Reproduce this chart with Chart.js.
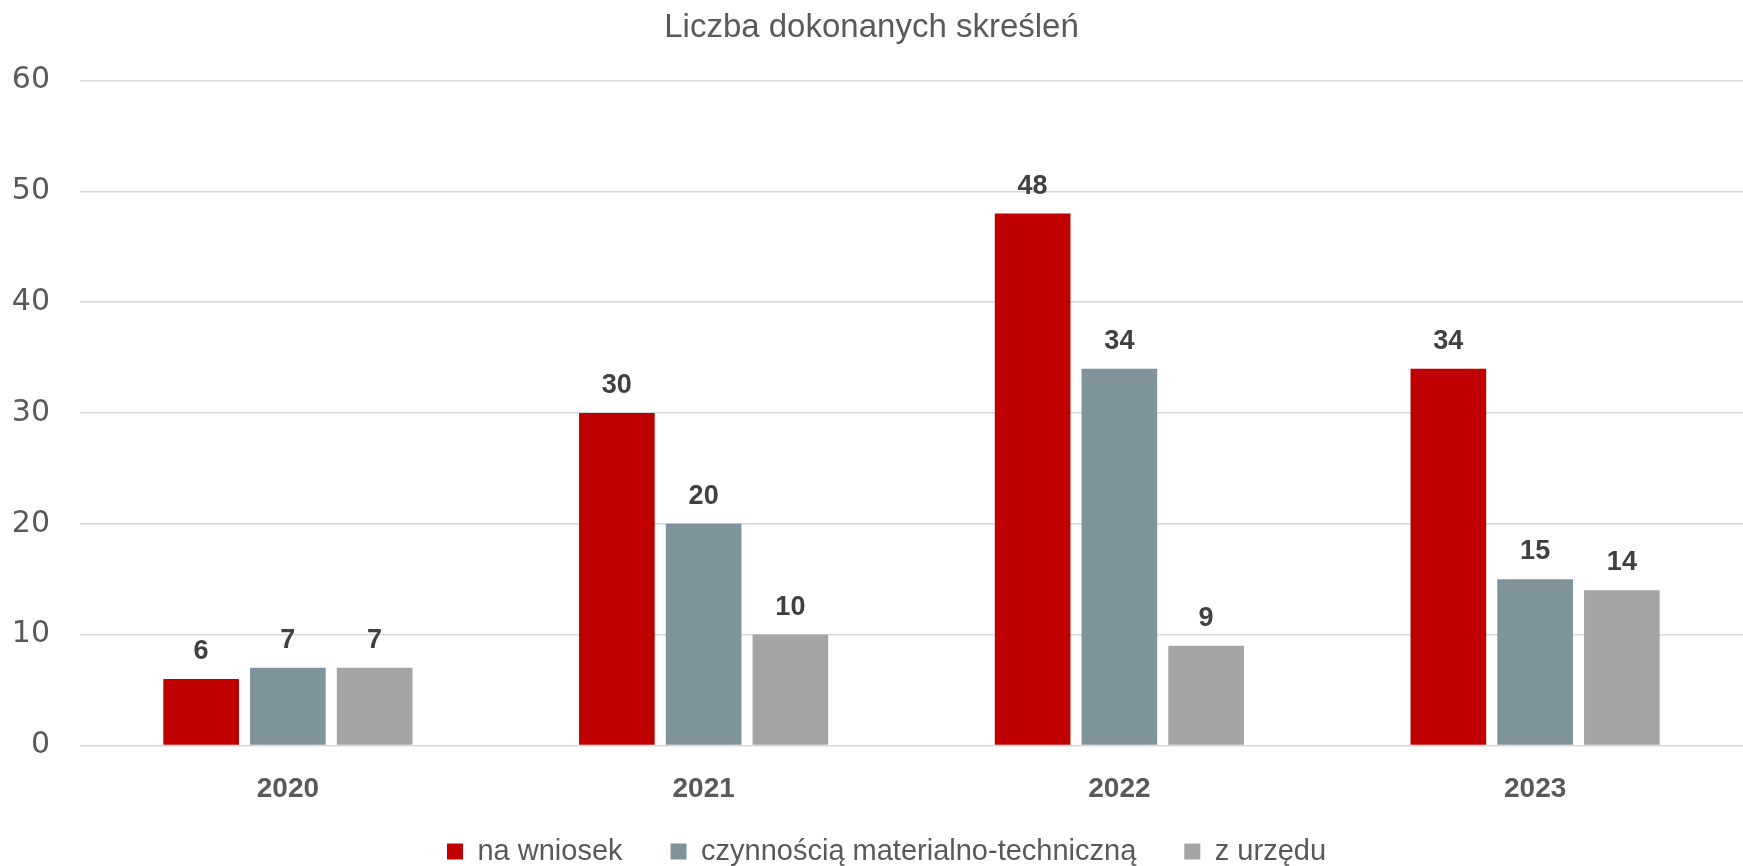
<!DOCTYPE html>
<html>
<head>
<meta charset="utf-8">
<script src="https://cdn.jsdelivr.net/npm/chart.js"></script>
<style>
  html, body { margin: 0; padding: 0; background: #fff; }
  #wrap { width: 1743px; height: 866px; }
</style>
</head>
<body>
<div id="wrap"><canvas id="wykres"></canvas></div>
<script>
// dane
const lata = ["2020", "2021", "2022", "2023"];
const naWniosek = [6, 30, 48, 34];
const czynnosciaMT = [7, 20, 34, 15];
const zUrzedu = [7, 10, 9, 14];
const nazwySerii = ["na wniosek", "czynnością materialno-techniczną", "z urzędu"];
const tytul = "Liczba dokonanych skreśleń";
const osY = { min: 0, max: 60, krok: 10 };

const kolory = ["#C00000", "#7F939B", "#A5A5A5"];
const szary = "#595959";

// etykiety nad slupkami + przesuniecie legendy
const etykietyWartosci = {
  id: "etykietyWartosci",
  afterLayout(chart) {
    const leg = chart.legend;
    leg.left += 15;
    leg.right += 15;
    leg.top -= 44;
    leg.bottom -= 44;
  },
  afterDatasetsDraw(chart) {
    const ctx = chart.ctx;
    ctx.save();
    ctx.font = "bold 27px 'Liberation Sans'";
    ctx.fillStyle = "#404040";
    ctx.textAlign = "center";
    ctx.textBaseline = "alphabetic";
    chart.data.datasets.forEach((ds, i) => {
      chart.getDatasetMeta(i).data.forEach((bar, j) => {
        ctx.fillText(ds.data[j], bar.x, bar.y - 20);
      });
    });
    ctx.restore();
  }
};

const serie = [naWniosek, czynnosciaMT, zUrzedu];

new Chart(document.getElementById("wykres"), {
  type: "bar",
  data: {
    labels: lata,
    datasets: serie.map((dane, i) => ({
      label: nazwySerii[i],
      data: dane,
      backgroundColor: kolory[i],
      borderWidth: 0,
      categoryPercentage: 0.626,
      barPercentage: 0.872
    }))
  },
  options: {
    responsive: true,
    maintainAspectRatio: false,
    animation: false,
    layout: { padding: { top: 0, right: 0, bottom: -54, left: 0 } },
    plugins: {
      title: {
        display: true,
        text: tytul,
        color: szary,
        font: { family: "'Liberation Sans'", size: 33, weight: "normal" },
        padding: { top: 8, bottom: 33 }
      },
      legend: {
        position: "bottom",
        labels: {
          boxWidth: 16,
          boxHeight: 16,
          padding: 48,
          color: szary,
          font: { family: "'Liberation Sans'", size: 29 }
        }
      },
      tooltip: { enabled: false }
    },
    scales: {
      x: {
        grid: { display: false, drawTicks: false },
        border: { display: false },
        ticks: {
          color: szary,
          padding: 27,
          font: { family: "'Liberation Sans'", size: 28, weight: "bold" }
        }
      },
      y: {
        min: osY.min,
        max: osY.max,
        grid: { color: "#D9D9D9", lineWidth: 1.5, drawTicks: false },
        border: { display: false },
        ticks: {
          stepSize: osY.krok,
          color: szary,
          padding: 30,
          font: { family: "'DejaVu Sans'", size: 30 }
        },
        afterFit: s => { s.width = 80; }
      }
    }
  },
  plugins: [etykietyWartosci]
});
</script>
</body>
</html>
